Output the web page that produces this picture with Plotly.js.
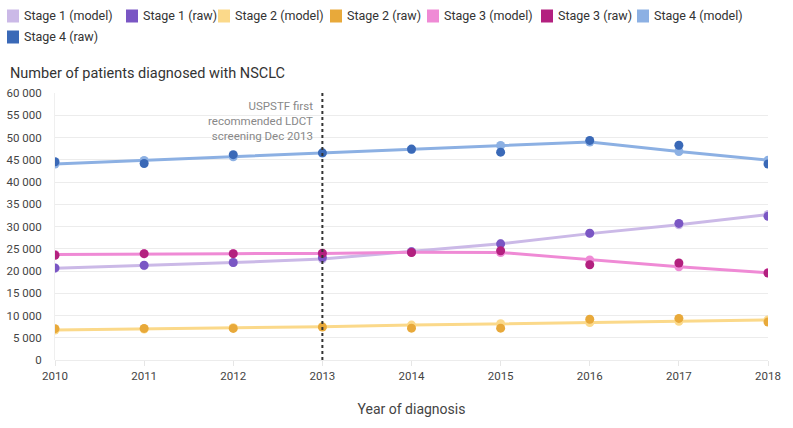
<!DOCTYPE html>
<html>
<head>
<meta charset="utf-8">
<script src="https://cdn.plot.ly/plotly-3.0.1.min.js"></script>
<style>html,body{margin:0;padding:0;background:#fff;}#chart{width:793px;height:428px;}</style>
</head>
<body>
<div id="chart"></div>
<script>
const years = [2010, 2011, 2012, 2013, 2014, 2015, 2016, 2017, 2018];
const stage1Model = [20600, 21200, 21900, 22700, 24400, 26100, 28400, 30400, 32700];
const stage1Raw   = [20700, 21300, 21900, 23000, 24300, 26100, 28500, 30700, 32300];
const stage2Model = [6750, 6950, 7250, 7500, 7850, 8150, 8400, 8700, 9000];
const stage2Raw   = [7050, 7100, 7100, 7400, 7150, 7150, 9150, 9350, 8550];
const stage3Model = [23700, 23850, 23900, 23950, 24200, 24150, 22500, 20950, 19600];
const stage3Raw   = [23550, 23900, 23900, 24000, 24150, 24550, 21400, 21800, 19550];
const stage4Model = [44050, 44850, 45650, 46500, 47300, 48200, 49000, 46850, 44900];
const stage4Raw   = [44550, 44150, 46150, 46550, 47400, 46700, 49350, 48250, 44050];

const names = ['Stage 1 (model)','Stage 1 (raw)','Stage 2 (model)','Stage 2 (raw)','Stage 3 (model)','Stage 3 (raw)','Stage 4 (model)','Stage 4 (raw)'];
const colors = ['#cbb9e7','#7a56c4','#fbd98a','#e8a93a','#ef8ad5','#b3207f','#8cb0e3','#3a69b7'];
const series = [stage1Model, stage1Raw, stage2Model, stage2Raw, stage3Model, stage3Raw, stage4Model, stage4Raw];

const traces = [];
[0,2,4,6].forEach(i => {
  traces.push({x: years, y: series[i], type: 'scatter', mode: 'lines+markers', name: names[i], showlegend: false,
    line: {color: colors[i], width: 3}, marker: {color: colors[i], size: 9}});
});
[1,3,5,7].forEach(i => {
  traces.push({x: years, y: series[i], type: 'scatter', mode: 'markers', name: names[i], showlegend: false,
    marker: {color: colors[i], size: 9}});
});

// plot area geometry (pixels) for placing the hand-made legend
const L = 55, R = 25, T = 93, B = 68, W = 793, H = 428;
const pw = W - L - R, ph = H - T - B;
const px = p => (p - L) / pw;
const py = q => (H - B - q) / ph;
const legendPos = [[7,16],[126,16],[218,16],[330,16],[427,16],[541,16],[637,16],[7,37]];

const shapes = [{type: 'line', xref: 'x', yref: 'paper', x0: 2013, x1: 2013, y0: 0, y1: 1,
  line: {color: '#333', width: 2, dash: 'dot'}}];
const font = 'Roboto, "Noto Sans", sans-serif';
const annotations = [
  {xref: 'paper', yref: 'paper', x: px(8), xanchor: 'left', y: py(73), yanchor: 'middle',
    text: 'Number of patients diagnosed with NSCLC', showarrow: false, font: {size: 14.5, color: '#333'}},
  {xref: 'x', yref: 'paper', x: 2013, y: py(97), xanchor: 'right', yanchor: 'top', xshift: -7, align: 'right',
    text: 'USPSTF first<br>recommended LDCT<br>screening Dec 2013', showarrow: false, font: {size: 11.5, color: '#888'}}
];
names.forEach((n, i) => {
  const [sx, sy] = legendPos[i];
  shapes.push({type: 'rect', xref: 'paper', yref: 'paper', x0: px(sx), x1: px(sx + 12), y0: py(sy - 6.5), y1: py(sy + 6.5),
    fillcolor: colors[i], line: {width: 0}, layer: 'above'});
  annotations.push({xref: 'paper', yref: 'paper', x: px(sx + 15), xanchor: 'left', y: py(sy), yanchor: 'middle',
    text: n, showarrow: false, font: {size: 12.5, color: '#333'}});
});

const layout = {
  width: W, height: H,
  margin: {l: L, r: R, t: T, b: B},
  paper_bgcolor: '#fff', plot_bgcolor: '#fff',
  font: {family: font, color: '#333', size: 12},
  showlegend: false,
  xaxis: {range: [2010, 2018], tickvals: years, ticktext: years.map(String), showgrid: false, zeroline: false,
    showline: false, ticks: 'outside', ticklen: 5, tickcolor: '#e6e6e6', tickfont: {size: 11.5, color: '#444'},
    title: {text: 'Year of diagnosis', font: {size: 14, color: '#444'}, standoff: 22}},
  yaxis: {range: [0, 60000], dtick: 5000, showgrid: true, gridcolor: '#ececec', gridwidth: 1, zeroline: true, zerolinecolor: '#ececec',
    showline: true, linecolor: '#efefef', ticks: '', ticklabelstandoff: 10, tickfont: {size: 11.5, color: '#444'}, tickformat: ',d'},
  separators: '. ',
  shapes: shapes,
  annotations: annotations
};
Plotly.newPlot('chart', traces, layout, {displayModeBar: false, staticPlot: true});
</script>
</body>
</html>
